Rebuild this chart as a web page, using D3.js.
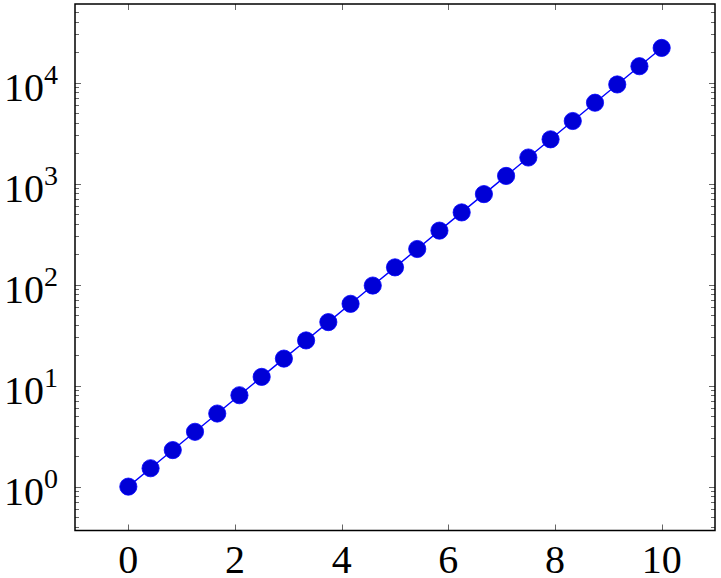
<!DOCTYPE html>
<meta charset="utf-8">
<style>
  body { margin: 0; background: #fff; }
  .lbl { font-family: "Liberation Serif", "DejaVu Serif", serif; fill: #000; }
</style>
<body>
<script src="https://cdnjs.cloudflare.com/ajax/libs/d3/7.8.5/d3.min.js"></script>
<script>
// samples (25 points, log y)
var xs = [0, 0.417, 0.833, 1.25, 1.667, 2.083, 2.5, 2.917, 3.333, 3.75, 4.167, 4.583, 5,
          5.417, 5.833, 6.25, 6.667, 7.083, 7.5, 7.917, 8.333, 8.75, 9.167, 9.583, 10];
var ys = [1, 1.52, 2.3, 3.49, 5.29, 8.03, 12.2, 18.5, 28, 42.5, 64.5, 97.8, 148,
          225, 342, 518, 786, 1190, 1810, 2740, 4160, 6310, 9570, 14500, 22000];
var xTicks = [0, 2, 4, 6, 8, 10];
var yExps = [0, 1, 2, 3, 4];

var width = 721, height = 578;
var frame = {left: 75, right: 715, top: 4, bottom: 530.5};

var svg = d3.select("body").append("svg")
    .attr("width", width)
    .attr("height", height);

var x = d3.scaleLinear().domain([-1, 11]).range([frame.left, frame.right]);
var y = d3.scaleLog().domain([0.3679, 59874]).range([frame.bottom, frame.top]);

// minor + major ticks on the log axis, both sides
var yMinor = [];
for (var e = -1; e <= 4; e++) {
  for (var m = 2; m <= 9; m++) {
    var v = m * Math.pow(10, e);
    if (v > y.domain()[0] && v < y.domain()[1]) yMinor.push(v);
  }
}

var ticks = svg.append("g").attr("stroke", "#555").attr("stroke-width", 0.9);

ticks.selectAll(".ymin").data(yMinor).enter().append("path")
    .attr("d", function(d) {
      var yy = Math.round(y(d)) + 0.5;
      return "M" + frame.left + "," + yy + "h4M" + frame.right + "," + yy + "h-4";
    });
ticks.selectAll(".ymaj").data(yExps).enter().append("path")
    .attr("d", function(d) {
      var yy = Math.round(y(Math.pow(10, d))) + 0.5;
      return "M" + frame.left + "," + yy + "h6M" + frame.right + "," + yy + "h-6";
    });
ticks.selectAll(".xmaj").data(xTicks).enter().append("path")
    .attr("d", function(d) {
      var xx = Math.round(x(d)) + 0.5;
      return "M" + xx + "," + frame.bottom + "v-6M" + xx + "," + frame.top + "v6";
    });

// line and markers
svg.append("path")
    .datum(d3.zip(xs, ys))
    .attr("fill", "none")
    .attr("stroke", "#0000ff")
    .attr("stroke-width", 1.4)
    .attr("d", d3.line().x(function(d) { return x(d[0]); }).y(function(d) { return y(d[1]); }));

svg.selectAll(".mark").data(d3.zip(xs, ys)).enter().append("circle")
    .attr("cx", function(d) { return x(d[0]); })
    .attr("cy", function(d) { return y(d[1]); })
    .attr("r", 8.6)
    .attr("fill", "#0000d6")
    .attr("stroke", "#0000ff")
    .attr("stroke-width", 0.8);

// frame
svg.append("rect")
    .attr("x", frame.left).attr("y", frame.top)
    .attr("width", frame.right - frame.left)
    .attr("height", frame.bottom - frame.top)
    .attr("fill", "none")
    .attr("stroke", "#000")
    .attr("stroke-width", 1.5);

// tick labels
svg.selectAll(".xl").data(xTicks).enter().append("text")
    .attr("class", "lbl")
    .attr("x", function(d) { return x(d); })
    .attr("y", 573)
    .attr("text-anchor", "middle")
    .style("font-size", "40px")
    .text(function(d) { return d; });

var yl = svg.selectAll(".yl").data(yExps).enter().append("text")
    .attr("class", "lbl")
    .attr("x", 58)
    .attr("y", function(d) { return y(Math.pow(10, d)) + 18; })
    .attr("text-anchor", "end")
    .style("font-size", "40px");
yl.append("tspan").text("10");
yl.append("tspan")
    .attr("dy", -17)
    .style("font-size", "28px")
    .text(function(d) { return d; });
</script>
</body>
